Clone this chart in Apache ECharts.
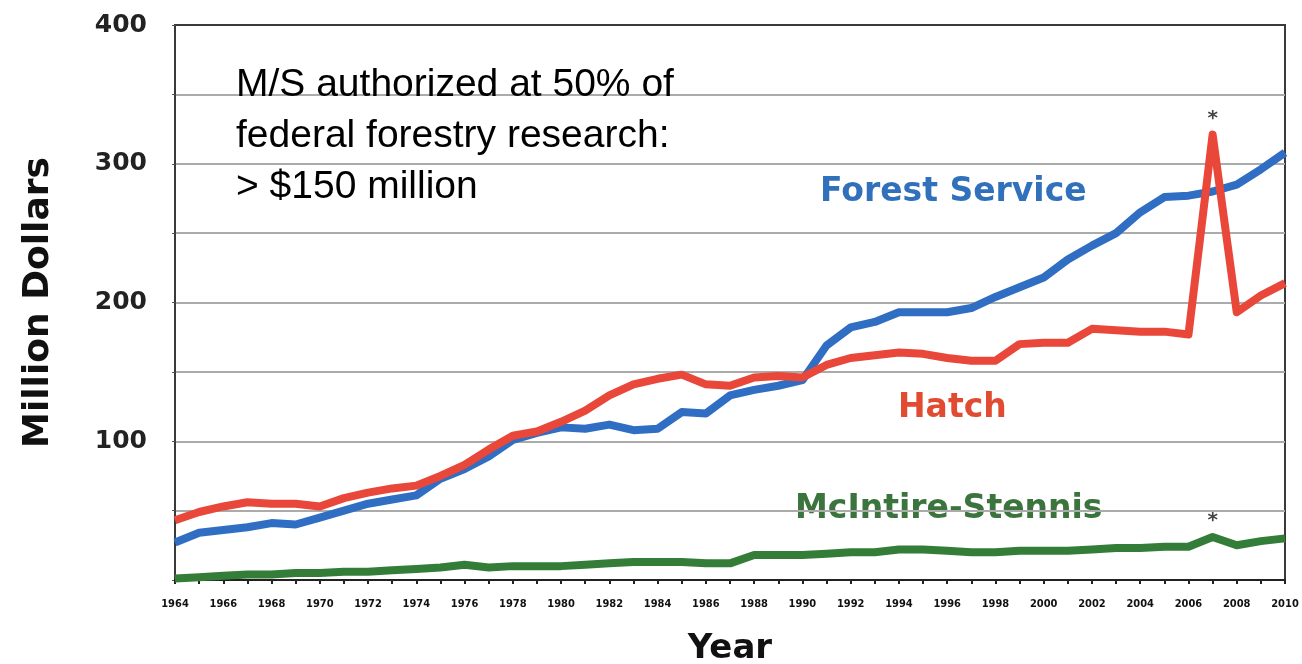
<!DOCTYPE html>
<html><head><meta charset="utf-8">
<script src="https://cdn.jsdelivr.net/npm/echarts@6/dist/echarts.min.js"></script>
<style>html,body{margin:0;padding:0;background:#fff}#c{width:1302px;height:664px}</style>
</head><body><div id="c"></div>
<script>
const years = ['1964','1965','1966','1967','1968','1969','1970','1971','1972','1973','1974','1975','1976','1977','1978','1979','1980','1981','1982','1983','1984','1985','1986','1987','1988','1989','1990','1991','1992','1993','1994','1995','1996','1997','1998','1999','2000','2001','2002','2003','2004','2005','2006','2007','2008','2009','2010'];
const forestService = [27,34,36,38,41,40,45,50,55,58,61,73,80,89,101,106,110,109,112,108,109,121,120,133,137,140,144,169,182,186,193,193,193,196,204,211,218,231,241,250,265,276,277,280,285,296,308];
const hatch = [43,49,53,56,55,55,53,59,63,66,68,75,83,94,104,107,114,122,133,141,145,148,141,140,146,147,146,155,160,162,164,163,160,158,158,170,171,171,181,180,179,179,177,321,193,205,214];
const mcintireStennis = [1,2,3,4,4,5,5,6,6,7,8,9,11,9,10,10,10,11,12,13,13,13,12,12,18,18,18,19,20,20,22,22,21,20,20,21,21,21,22,23,23,24,24,31,25,28,30];
const yTicks = [100,200,300,400];
const annotation = 'M/S authorized at 50% of\nfederal forestry research:\n> $150 million';

const chart = echarts.init(document.getElementById('c'), null, {renderer:'canvas'});
const colors = {fs:'#2f6ec3', h:'#e8473a', ms:'#347d38'};
function line(name, data, color, star){
  const s = {name, type:'line', data, symbol:'none', smooth:false,
    lineStyle:{color, width:8, cap:'butt', join:'round'}, z: 3};
  if (star){
    s.markPoint = {symbol:'circle', symbolSize:0, silent:true,
      data:[{coord:[star, data[years.indexOf(star)]]}],
      label:{show:true, formatter:'*', color:'#444', fontSize:20, fontWeight:'bold', fontFamily:'DejaVu Sans', offset:[0,-16]}};
  }
  return s;
}
const gridColors = ['#ababab','#ababab','#ababab','#ababab','#ababab','#ababab','#ababab','#ababab','#3a3a3a'];
chart.setOption({
  animation:false,
  backgroundColor:'#fff',
  grid:{left:175, right:17, top:25, bottom:84, outerBoundsMode:'none', containLabel:false, show:true, borderColor:'#3a3a3a', borderWidth:2},
  xAxis:{type:'category', data:years, boundaryGap:false,
    axisLine:{lineStyle:{color:'#222', width:2}},
    axisTick:{show:true, interval:0, length:4, lineStyle:{color:'#222', width:2}},
    axisLabel:{interval:1, margin:19, color:'#111', fontSize:11, fontWeight:'bold', fontFamily:'DejaVu Sans Condensed, DejaVu Sans'},
    name:'Year', nameLocation:'middle', nameGap:52,
    nameTextStyle:{fontSize:34, fontWeight:'bold', color:'#111', fontFamily:'DejaVu Sans'}
  },
  yAxis:{type:'value', min:0, max:400, interval:50,
    axisLine:{show:true, lineStyle:{color:'#3a3a3a', width:2}},
    axisTick:{show:true, length:3, lineStyle:{color:'#555'}},
    axisLabel:{margin:28, color:'#222', fontSize:25, fontWeight:'bold', fontFamily:'DejaVu Sans',
      formatter: v => yTicks.includes(v) ? String(v) : ''},
    splitLine:{show:true, lineStyle:{color:gridColors, width:2}},
    name:'Million Dollars', nameLocation:'middle', nameGap:118, nameRotate:90,
    nameTextStyle:{fontSize:36, fontWeight:'bold', color:'#111', fontFamily:'DejaVu Sans'}
  },
  series:[
    line('McIntire-Stennis', mcintireStennis, colors.ms, '2007'),
    line('Forest Service', forestService, colors.fs, null),
    line('Hatch', hatch, colors.h, '2007')
  ],
  graphic:[
    {type:'text', left:236, top:60, silent:true, z:10,
      style:{text:annotation, fill:'#000', fontSize:39, lineHeight:51, fontFamily:'Liberation Sans'}},
    {type:'text', left:820, top:176, silent:true,
      style:{text:'Forest Service', fill:'#3170ba', fontSize:33, fontWeight:'bold', fontFamily:'DejaVu Sans'}},
    {type:'text', left:898, top:392, silent:true,
      style:{text:'Hatch', fill:'#e14b32', fontSize:33, fontWeight:'bold', fontFamily:'DejaVu Sans'}},
    {type:'text', left:795, top:493, silent:true,
      style:{text:'McIntire-Stennis', fill:'#3b743c', fontSize:33, fontWeight:'bold', fontFamily:'DejaVu Sans'}}
  ]
});
</script></body></html>
